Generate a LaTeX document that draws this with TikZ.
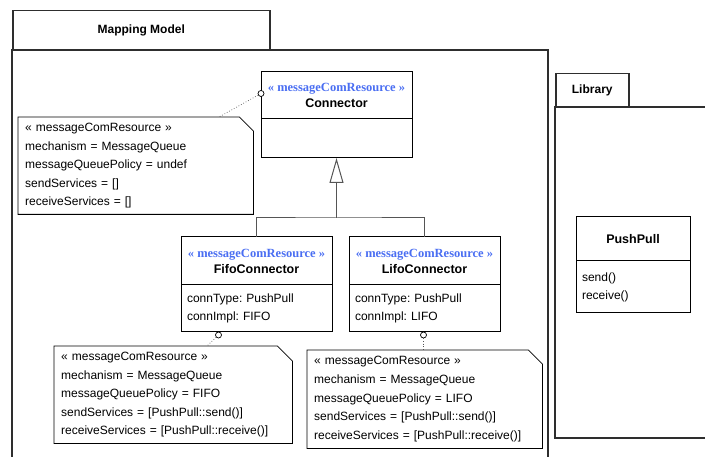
\documentclass[tikz,border=0pt]{standalone}
\usepackage{fontspec}
\setmainfont{Liberation Sans}
\newfontfamily\stereofont{Liberation Serif}
\usepackage{xcolor}
\usetikzlibrary{arrows.meta,positioning,calc}
\definecolor{stereo}{HTML}{4A6EF2}
\definecolor{pkgline}{HTML}{2E2E2E}
\definecolor{linkc}{HTML}{555555}
\frenchspacing
\newcommand{\stereotype}[1]{{\stereofont\bfseries\fontsize{12.5}{15}\selectfont\color{stereo}« #1 »}}
% note outline with the cut corner
\newcommand{\noteframe}[2]{%
  \draw[noteline] (#1.north west) -- ([xshift=-#2]#1.north east)
    -- ([yshift=-#2]#1.north east) -- (#1.south east) -- (#1.south west) -- cycle;}
\tikzset{
  pkgtab/.style={draw=pkgline,line width=1.5pt,inner sep=0pt,anchor=north west,
    font=\bfseries\fontsize{12}{14}\selectfont},
  pkgframe/.style={draw=pkgline,line width=1.5pt},
  clshead/.style={draw,line width=1pt,inner sep=0pt,outer sep=0pt,minimum width=151pt,align=center,
    font=\bfseries\fontsize{12.5}{17}\selectfont},
  clsbody/.style={draw,line width=1pt,inner xsep=6pt,inner ysep=0pt,outer sep=0pt,minimum width=151pt,
    text width=139pt,align=left,font=\fontsize{12}{18}\selectfont},
  note/.style={inner xsep=7pt,inner ysep=0pt,align=left,anchor=north west,
    font=\fontsize{12}{18.6}\selectfont},
  noteline/.style={draw=black,line width=0.8pt},
  port/.style={circle,draw,line width=0.7pt,fill=white,inner sep=0pt,minimum size=6pt},
  anchorlink/.style={draw=linkc,line width=0.7pt,dotted},
  genline/.style={draw=linkc,line width=1pt},
  genarrow/.style={genline,-{Triangle[open,length=25pt,width=14pt]}},
}
\begin{document}
\begin{tikzpicture}[x=1pt,y=-1pt]
  \useasboundingbox (0,0) rectangle (705,457);
  % --- packages ---
  \node[pkgtab,minimum width=257pt,minimum height=40pt] (mm) at (12,10) {Mapping Model};
  \draw[pkgframe] (12,457) |- (548,50) -- (548,457);
  \node[pkgtab,minimum width=73pt,minimum height=34pt] (lib) at (555,73) {Library};
  \draw[pkgframe] (705,107) -| (555,438) -- (705,438);
  % --- classes ---
  \node[clshead,minimum height=47pt,anchor=north west] (ConnH) at (261,72)
    {\stereotype{messageComResource}\\[-1pt]Connector};
  \node[clsbody,minimum height=39pt,below=0pt of ConnH] (ConnB) {};
  \node[clshead,minimum height=48pt,anchor=north west] (FifoH) at (181,237)
    {\stereotype{messageComResource}\\[-1pt]FifoConnector};
  \node[clsbody,minimum height=47pt,below=0pt of FifoH] (FifoB)
    {connType: PushPull\\connImpl: FIFO};
  \node[clshead,minimum height=48pt,right=17pt of FifoH] (LifoH)
    {\stereotype{messageComResource}\\[-1pt]LifoConnector};
  \node[clsbody,minimum height=47pt,below=0pt of LifoH] (LifoB)
    {connType: PushPull\\connImpl: LIFO};
  \node[clshead,minimum width=114pt,minimum height=44pt,anchor=north west] (PPH) at (576,217)
    {PushPull};
  \node[clsbody,minimum width=114pt,text width=102pt,minimum height=52pt,below=0pt of PPH] (PPB)
    {send()\\receive()};
  % --- generalization ---
  \coordinate (gj) at ($(ConnB.south)+(0,60)$);
  \draw[genline] (FifoH.north) |- (gj) -| (LifoH.north);
  \draw[genarrow] (gj) -- (ConnB.south);
  % --- notes ---
  \node[note,text width=221pt,minimum height=97pt] (N0) at (18,117)
    {« messageComResource »\\mechanism = MessageQueue\\messageQueuePolicy = undef\\
     sendServices = []\\receiveServices = []};
  \noteframe{N0}{14pt}
  \node[note,text width=224pt,minimum height=97pt] (NF) at (54,346)
    {« messageComResource »\\mechanism = MessageQueue\\messageQueuePolicy = FIFO\\
     sendServices = [PushPull::send()]\\receiveServices = [PushPull::receive()]};
  \noteframe{NF}{15pt}
  \node[note,text width=221pt,minimum height=98pt] (NL) at (307,350)
    {« messageComResource »\\mechanism = MessageQueue\\messageQueuePolicy = LIFO\\
     sendServices = [PushPull::send()]\\receiveServices = [PushPull::receive()]};
  \noteframe{NL}{14pt}
  % --- attachments ---
  \node[port] (pC) at ($(ConnH.west)+(0,-2)$) {};
  \node[port] (pF) at ($(FifoB.south)+(-38,3)$) {};
  \node[port] (pL) at ($(LifoB.south)+(-1,3)$) {};
  \draw[anchorlink] (pC) -- ([xshift=201pt]N0.north west);
  \draw[anchorlink] (pF) -- ([xshift=153pt]NF.north west);
  \draw[anchorlink] (pL) -- (pL |- NL.north);
\end{tikzpicture}
\end{document}
